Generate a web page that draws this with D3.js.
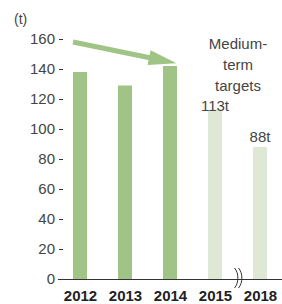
<!DOCTYPE html>
<html>
<head>
<meta charset="utf-8">
<script src="https://cdn.jsdelivr.net/npm/d3@7"></script>
<style>
  body { margin: 0; background: #fff; }
  text { font-family: "Liberation Sans", Arial, sans-serif; }
</style>
</head>
<body>
<div id="chart"></div>
<script>
/** chart data */
var years = ["2012", "2013", "2014", "2015", "2018"];
var values = [138, 129, 142, 113, 88];
var isTarget = [false, false, false, true, true];
var targetLabels = ["", "", "", "113t", "88t"];
var yTicks = [0, 20, 40, 60, 80, 100, 120, 140, 160];
var noteLines = ["Medium-", "term", "targets"];
var arrowFrom = {year: "2012", value: 158};
var arrowTo = {year: "2014", value: 143.8};

var width = 282, height = 304;

var svg = d3.select("#chart")
  .append("svg")
    .attr("width", width)
    .attr("height", height);

/** scales */
var x = d3.scalePoint()
  .domain(years)
  .range([57.5, 282.5])
  .padding(0.5);

var y = d3.scaleLinear()
  .domain([0, 160])
  .range([279, 39]);

var barW = 14;

/** bars */
svg.selectAll("rect.bar")
  .data(years)
  .enter()
  .append("rect")
    .attr("class", "bar")
    .attr("x", function(d) { return x(d) - barW / 2; })
    .attr("y", function(d, i) { return y(values[i]); })
    .attr("width", barW)
    .attr("height", function(d, i) { return y(0) - y(values[i]); })
    .attr("fill", function(d, i) { return isTarget[i] ? "#dfe8d5" : "#a0c386"; });

/** y axis (ticks only) */
var yAxis = svg.append("g")
  .attr("transform", "translate(63,0)")
  .call(d3.axisLeft(y).tickValues(yTicks).tickSize(4).tickPadding(4));
yAxis.select(".domain").remove();
yAxis.selectAll("line").attr("stroke", "#333")
  .attr("display", function(d) { return d === 0 ? "none" : null; });
yAxis.selectAll("text")
  .attr("font-size", 15)
  .attr("fill", "#444")
  .style("font-family", "'Liberation Sans', Arial, sans-serif");

/** baseline */
svg.append("line")
  .attr("x1", 58).attr("x2", 282)
  .attr("y1", y(0) + 0.5).attr("y2", y(0) + 0.5)
  .attr("stroke", "#333");

/** x axis labels */
var xAxis = svg.append("g")
  .attr("transform", "translate(0," + y(0) + ")")
  .call(d3.axisBottom(x).tickSize(0).tickPadding(11));
xAxis.select(".domain").remove();
xAxis.selectAll("text")
  .attr("font-size", 15)
  .attr("font-weight", "bold")
  .attr("fill", "#222")
  .style("font-family", "'Liberation Sans', Arial, sans-serif");

/** axis break between 2015 and 2018 */
var bx = (x("2015") + x("2018")) / 2 + 0.5;
[-2, 2].forEach(function(o) {
  svg.append("path")
    .attr("d", "M" + (bx + o - 1.5) + "," + (y(0) - 11) +
               " C" + (bx + o + 3) + "," + (y(0) - 6) + " " +
               (bx + o + 3) + "," + (y(0) + 4) + " " +
               (bx + o - 1.5) + "," + (y(0) + 9))
    .attr("fill", "none")
    .attr("stroke", "#333")
    .attr("stroke-width", 1);
});

/** value labels on target bars */
svg.selectAll("text.val")
  .data(years)
  .enter()
  .filter(function(d, i) { return targetLabels[i] !== ""; })
  .append("text")
    .attr("class", "val")
    .attr("x", function(d) { return x(d); })
    .attr("y", function(d) { var i = years.indexOf(d); return y(values[i]) + (i === 3 ? 1 : -5); })
    .attr("text-anchor", "middle")
    .attr("font-size", 15)
    .attr("fill", "#444")
    .text(function(d) { return targetLabels[years.indexOf(d)]; });

/** note text */
svg.selectAll("text.note")
  .data(noteLines)
  .enter()
  .append("text")
    .attr("class", "note")
    .attr("x", 238)
    .attr("y", function(d, i) { return 49 + i * 21; })
    .attr("text-anchor", "middle")
    .attr("font-size", 15)
    .attr("fill", "#444")
    .text(function(d) { return d; });

/** unit label */
svg.append("text")
  .attr("x", 14)
  .attr("y", 24)
  .attr("font-size", 14)
  .attr("fill", "#444")
  .text("(t)");

/** trend arrow */
var ax1 = x(arrowFrom.year) - 7, ay1 = y(arrowFrom.value);
var ax2 = x(arrowTo.year) + 6.5, ay2 = y(arrowTo.value);
var ang = Math.atan2(ay2 - ay1, ax2 - ax1);
var headLen = 28, headW = 7.5;
var bxA = ax2 - headLen * Math.cos(ang), byA = ay2 - headLen * Math.sin(ang);
svg.append("line")
  .attr("x1", ax1).attr("y1", ay1)
  .attr("x2", bxA + 2 * Math.cos(ang)).attr("y2", byA + 2 * Math.sin(ang))
  .attr("stroke", "#a0c386")
  .attr("stroke-width", 5);
svg.append("path")
  .attr("d", "M" + ax2 + "," + ay2 +
             " L" + (bxA - headW * Math.sin(ang)) + "," + (byA + headW * Math.cos(ang)) +
             " L" + (bxA + headW * Math.sin(ang)) + "," + (byA - headW * Math.cos(ang)) + " Z")
  .attr("fill", "#a0c386");
</script>
</body>
</html>
